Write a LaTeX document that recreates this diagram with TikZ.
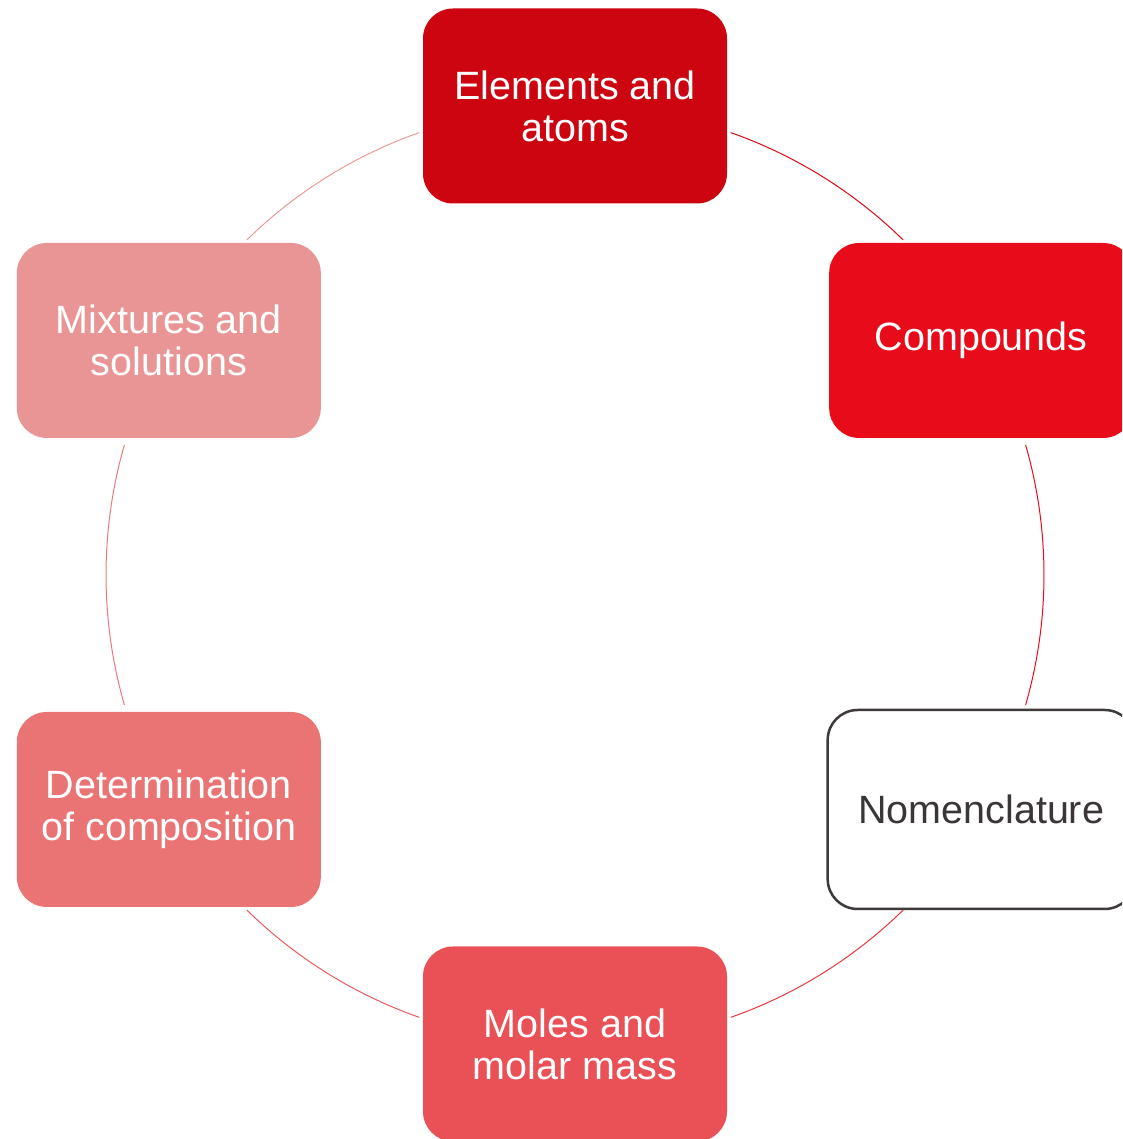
\documentclass[tikz,border=0pt]{standalone}
\usepackage{fontspec}
\setmainfont{Liberation Sans}
\usetikzlibrary{calc}
\begin{document}
\definecolor{cElem}{HTML}{CC0511}
\definecolor{cComp}{HTML}{E80C1A}
\definecolor{cMole}{HTML}{EA5156}
\definecolor{cDet}{HTML}{EA7374}
\definecolor{cMix}{HTML}{E99596}
\definecolor{cNomBorder}{HTML}{3E3A39}
\definecolor{cNomText}{HTML}{3A3636}
\definecolor{aOne}{HTML}{DC0A17}
\definecolor{aTwo}{HTML}{E80C1A}
\definecolor{aThree}{HTML}{E9363E}
\definecolor{aFour}{HTML}{EA5A5E}
\definecolor{aFive}{HTML}{EA7A7B}
\definecolor{aSix}{HTML}{E99A9B}
\begin{tikzpicture}[x=1pt,y=1pt,
  topic/.style={rounded corners=30pt, minimum width=304pt, minimum height=195pt,
    inner sep=0pt, align=center, text=white,
    font=\fontsize{39.5}{42}\selectfont},
  link/.style={line width=1pt}]
\useasboundingbox (0,0) rectangle (1122,1139);
\clip (0,0) rectangle (1122,1139);
\coordinate (ctr) at (575,564);
% topics around the cycle
\node[topic, fill=cElem] (elem) at ($(ctr)+(90:469)$) {Elements and\\atoms};
\node[topic, fill=cComp] (comp) at ($(ctr)+(30:469)$) {Compounds};
\node[topic, fill=white, draw=cNomBorder, line width=2.5pt, text=cNomText,
      minimum width=307pt, minimum height=199pt] (nom) at ($(ctr)+(-30:469)$) {Nomenclature};
\node[topic, fill=cMole] (mole) at ($(ctr)+(-90:469)$) {Moles and\\molar mass};
\node[topic, fill=cDet] (det) at ($(ctr)+(-150:469)$) {Determination\\of composition};
\node[topic, fill=cMix] (mix) at ($(ctr)+(150:469)$) {Mixtures and\\solutions};
% connecting arcs on the cycle
\draw[link, aOne]   ($(ctr)+(70.6:469)$)   arc[start angle=70.6,   end angle=45.6,   radius=469];
\draw[link, aTwo]   ($(ctr)+(16.1:469)$)   arc[start angle=16.1,   end angle=-16.1,  radius=469];
\draw[link, aThree] ($(ctr)+(-45.6:469)$)  arc[start angle=-45.6,  end angle=-70.6,  radius=469];
\draw[link, aFour]  ($(ctr)+(-109.4:469)$) arc[start angle=-109.4, end angle=-134.4, radius=469];
\draw[link, aFive]  ($(ctr)+(-163.9:469)$) arc[start angle=-163.9, end angle=-196.1, radius=469];
\draw[link, aSix]   ($(ctr)+(134.4:469)$)  arc[start angle=134.4,  end angle=109.4,  radius=469];
\end{tikzpicture}
\end{document}
